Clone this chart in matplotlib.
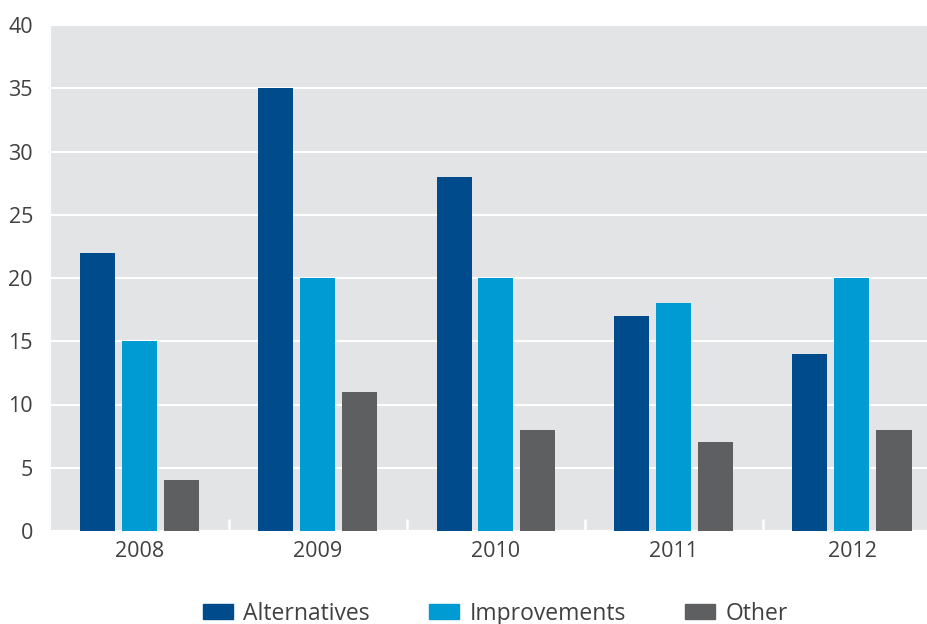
import numpy as np
import matplotlib.pyplot as plt
from matplotlib.patches import Patch

years = ['2008', '2009', '2010', '2011', '2012']
alternatives = [22, 35, 28, 17, 14]
improvements = [15, 20, 20, 18, 20]
other = [4, 11, 8, 7, 8]

plt.rcParams['font.family'] = ['Open Sans', 'DejaVu Sans']

c_alt = '#004b8c'
c_imp = '#009bd2'
c_oth = '#5e5f61'
txt = '#404040'

fig = plt.figure(figsize=(9.28, 6.24), dpi=100)
ax = fig.add_axes([51/928, 93/624, 877/928, 506/624])
ax.set_facecolor('#e3e4e6')

x = np.arange(len(years))
w = 35/178
step = 42/178
ax.bar(x - step, alternatives, w, color=c_alt, zorder=3)
ax.bar(x, improvements, w, color=c_imp, zorder=3)
ax.bar(x + step, other, w, color=c_oth, zorder=3)

ax.set_xlim(-0.5, -0.5 + 877/178)
ax.set_ylim(0, 40)
ax.set_yticks(range(0, 45, 5))
ax.set_xticks(x)
ax.set_xticklabels(years)
ax.set_xticks(x[:-1] + 0.5, minor=True)
ax.yaxis.grid(True, color='white', linewidth=1.5, zorder=1)
ax.set_axisbelow(True)

for s in ax.spines.values():
    s.set_visible(False)

ax.tick_params(axis='y', length=0, labelsize=15.5, labelcolor=txt, pad=13)
ax.tick_params(axis='x', which='major', length=0, labelsize=15.5, labelcolor=txt, pad=7)
ax.tick_params(axis='x', which='minor', direction='in', length=9, width=1.8, color='white')

handles = [Patch(color=c_alt, label='Alternatives'),
           Patch(color=c_imp, label='Improvements'),
           Patch(color=c_oth, label='Other')]
fig.legend(handles=handles, loc='lower center', bbox_to_anchor=(0.534, -0.036), ncol=3,
           frameon=False, fontsize=16.5, handlelength=1.3, handleheight=0.6,
           columnspacing=2.6, handletextpad=0.45, labelcolor=txt)

fig.savefig('out.png', dpi=100)
